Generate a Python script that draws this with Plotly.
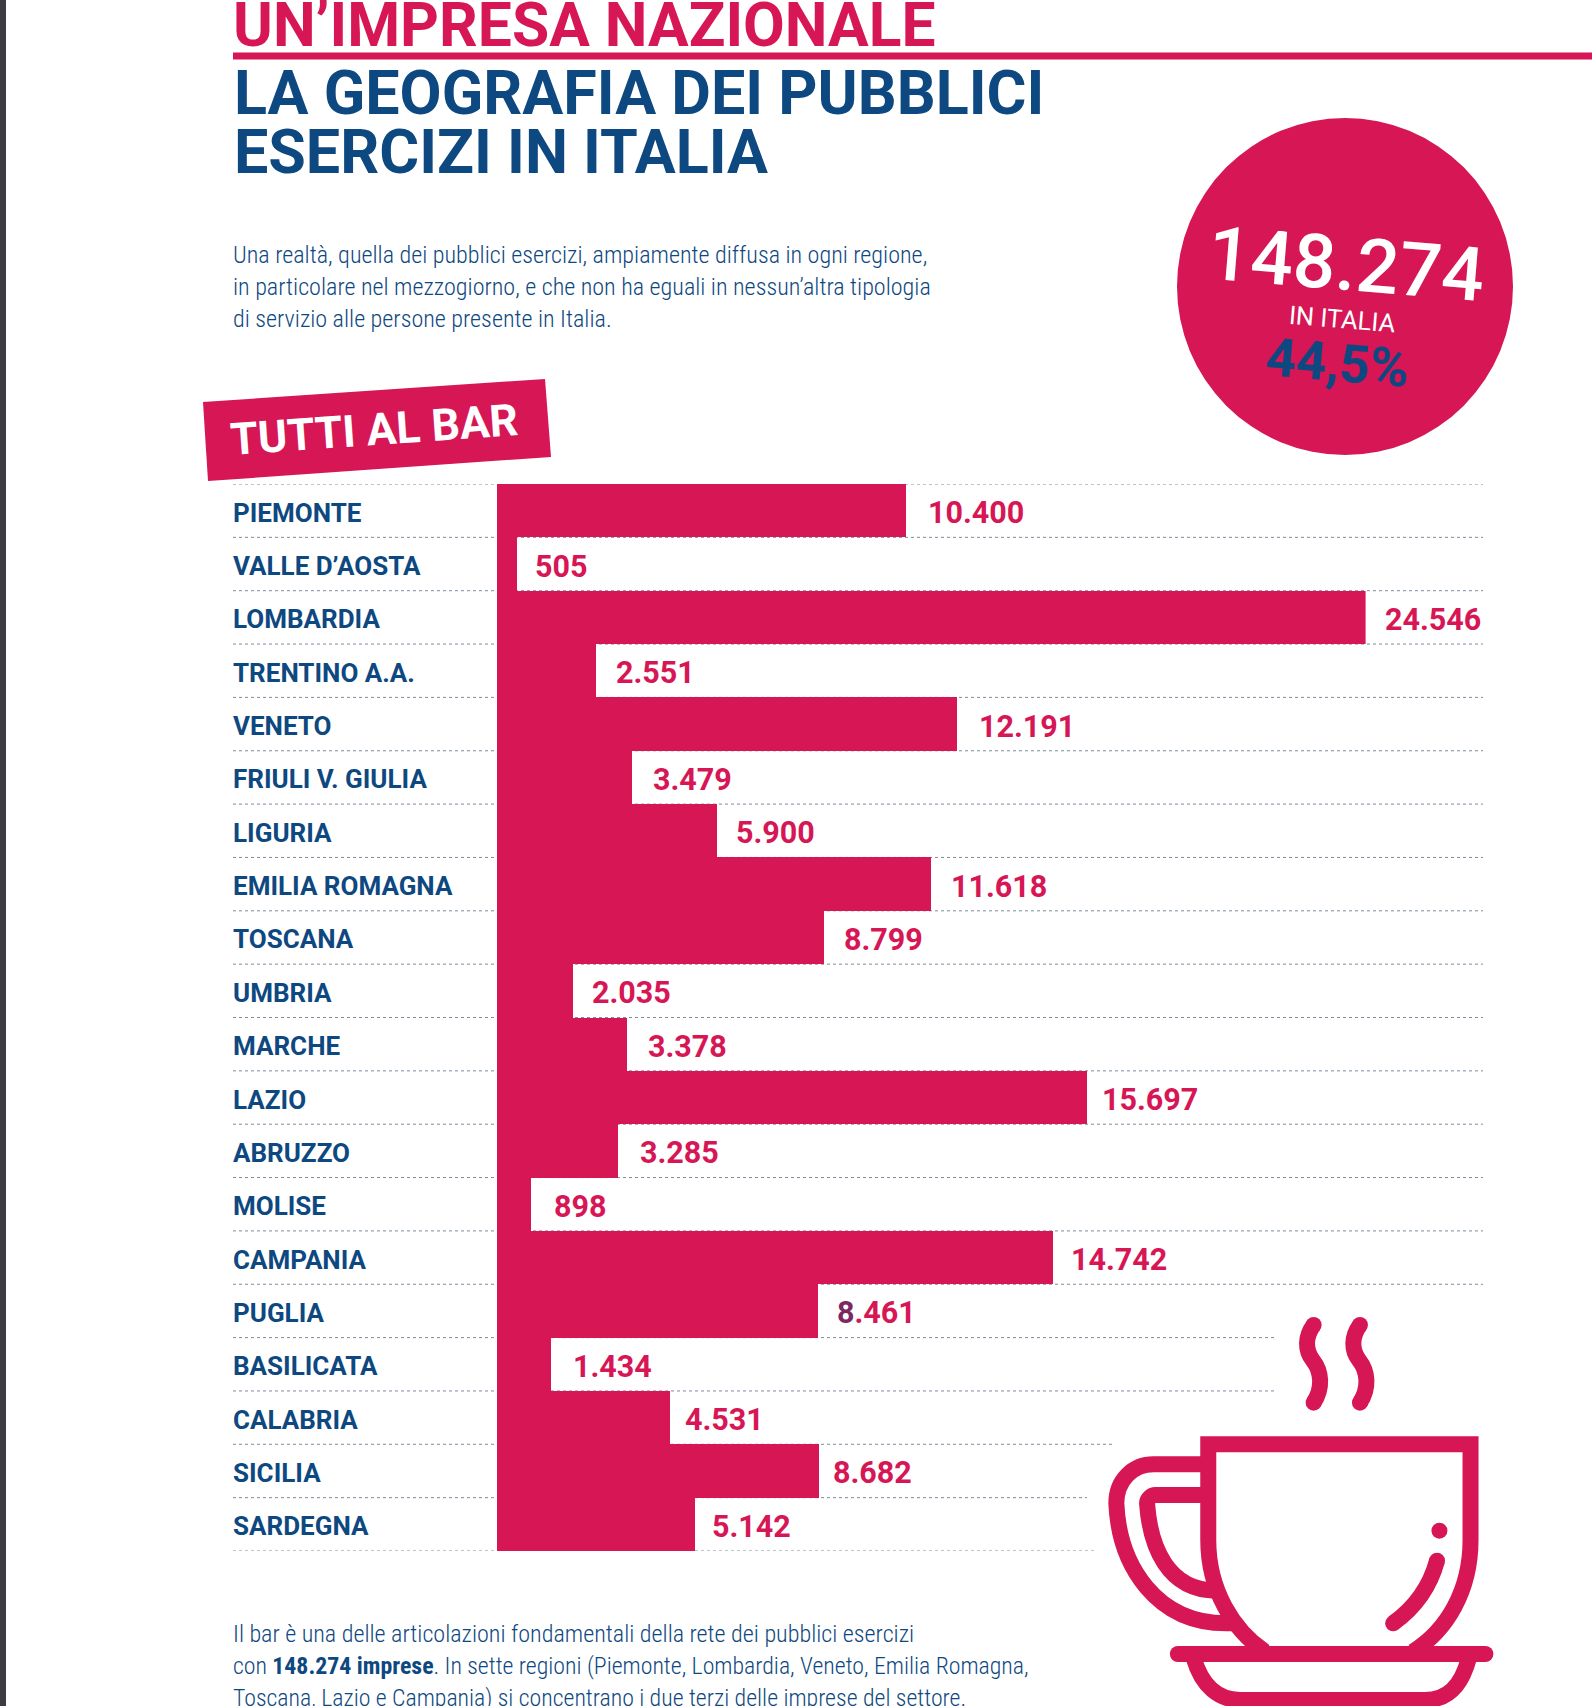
import plotly.graph_objects as go

# --- data -----------------------------------------------------------------
regions = ["PIEMONTE", "VALLE D’AOSTA", "LOMBARDIA", "TRENTINO A.A.", "VENETO",
           "FRIULI V. GIULIA", "LIGURIA", "EMILIA ROMAGNA", "TOSCANA", "UMBRIA",
           "MARCHE", "LAZIO", "ABRUZZO", "MOLISE", "CAMPANIA", "PUGLIA",
           "BASILICATA", "CALABRIA", "SICILIA", "SARDEGNA"]
# Figures printed next to each bar
printed_labels = ["10.400", "505", "24.546", "2.551", "12.191", "3.479", "5.900",
                  "11.618", "8.799", "2.035", "3.378", "15.697", "3.285", "898",
                  "14.742", "8.461", "1.434", "4.531", "8.682", "5.142"]
# Bar lengths as drawn in the source graphic. They are not strictly proportional
# to the printed figures, so they were read separately (Lombardia = 24546 as reference).
drawn_lengths = [11566, 554, 24546, 2799, 13011, 3814, 6213, 12273, 9228, 2153,
                 3660, 16672, 3414, 954, 15718, 9074, 1538, 4891, 9105, 5598]
rule_ends_px = [1483] * 16 + [1274, 1274, 1115, 1087, 1094]
label_gaps_px = [21, 17, 18, 19, 21, 20, 18, 19, 19, 18, 20, 14, 21, 22, 17, 18, 21, 14, 13, 16]

# --- style ----------------------------------------------------------------
W, H = 1592, 1706
PINK = "#D61655"
BLUE = "#0E4880"
HEAD = "Roboto"


def X(px):
    return px / W


def Y(py):
    return 1 - py / H


def note(text, x, y, size, color, family=HEAD, weight=400, anchor="left", angle=0):
    return dict(text=text, x=X(x), y=Y(y), xref="paper", yref="paper", showarrow=False,
                xanchor=anchor, yanchor="middle", textangle=angle, borderpad=0,
                font=dict(family=family, size=size, color=color, weight=weight))


def narrow(text):
    return f'<span style="font-stretch:75%">{text}</span>'


def poly(points, close=True):
    d = "M" + " L".join(f"{X(a):.5f},{Y(b):.5f}" for a, b in points)
    return d + (" Z" if close else "")


def cup_pt(zx, zy):
    # cup outline was measured on a crop: convert crop position to page pixels
    return f"{X(1050 + zx / 2.894):.5f},{Y(1280 + zy / 3):.5f}"


def stroke(cmds, width=16):
    parts = []
    for c, pts in cmds:
        parts.append(c + " ".join(cup_pt(*p) for p in pts))
    return dict(type="path", xref="paper", yref="paper", path=" ".join(parts),
                line=dict(color=PINK, width=width), fillcolor="rgba(0,0,0,0)", layer="above")


def dot(zx, zy, r=8):
    cx, cy = 1050 + zx / 2.894, 1280 + zy / 3
    return dict(type="circle", xref="paper", yref="paper", x0=X(cx - r), x1=X(cx + r),
                y0=Y(cy + r), y1=Y(cy - r), fillcolor=PINK, line=dict(width=0), layer="above")


fig = go.Figure(go.Bar(
    y=regions, x=drawn_lengths, orientation="h", width=1.0,
    marker=dict(color=PINK, line=dict(width=0)),
    customdata=printed_labels, hovertemplate="%{y}: %{customdata}<extra></extra>",
))

shapes = [
    # window edge, heading rule
    dict(type="rect", xref="paper", yref="paper", x0=0, x1=X(6), y0=0, y1=1,
         fillcolor="#3B3D40", line=dict(width=0)),
    dict(type="rect", xref="paper", yref="paper", x0=X(233), x1=1, y0=Y(59.5), y1=Y(52.5),
         fillcolor=PINK, line=dict(width=0)),
    # total badge and tilted banner
    dict(type="circle", xref="paper", yref="paper", x0=X(1177), x1=X(1513), y0=Y(455), y1=Y(118),
         fillcolor=PINK, line=dict(width=0)),
    dict(type="path", xref="paper", yref="paper",
         path=poly([(203, 402), (545, 379), (551, 457), (208, 481)]),
         fillcolor=PINK, line=dict(width=0)),
]
# dotted row rules
for i, end in enumerate(rule_ends_px):
    shapes.append(dict(type="line", xref="paper", yref="y", x0=X(233), x1=X(end),
                       y0=i - 0.5, y1=i - 0.5, layer="below",
                       line=dict(color="#7B8CA0", width=1, dash="dot")))

# coffee cup icon
shapes += [
    stroke([("M", [(622, 1115)]), ("C", [(530, 1050), (458, 930), (458, 780)]), ("L", [(458, 493)]),
            ("L", [(1217, 493)]), ("L", [(1217, 780)]), ("C", [(1217, 930), (1150, 1050), (1050, 1115)])]),
    stroke([("M", [(370, 1122)]), ("L", [(1260, 1122)])]),
    stroke([("M", [(416, 1135)]), ("C", [(440, 1220), (490, 1260), (550, 1260)]), ("L", [(1085, 1260)]),
            ("C", [(1150, 1260), (1190, 1220), (1212, 1135)])]),
    stroke([("M", [(437, 553)]), ("L", [(300, 553)]), ("C", [(240, 553), (192, 600), (192, 670)]),
            ("C", [(200, 860), (310, 1030), (510, 1030)]), ("L", [(545, 1030)])]),
    stroke([("M", [(437, 645)]), ("L", [(305, 645)]), ("C", [(295, 645), (280, 655), (281, 672)]),
            ("C", [(290, 800), (340, 930), (480, 932)])]),
    stroke([("M", [(1120, 842)]), ("C", [(1100, 920), (1060, 980), (993, 1030)])]),
    stroke([("M", [(763, 135)]), ("C", [(738, 170), (738, 210), (760, 240)]), ("C", [(787, 275), (790, 325), (763, 368)])]),
    stroke([("M", [(897, 135)]), ("C", [(872, 170), (872, 210), (894, 240)]), ("C", [(921, 275), (924, 325), (897, 368)])]),
    dot(1127, 752), dot(1120, 842), dot(993, 1030), dot(763, 135), dot(763, 368), dot(897, 135), dot(897, 368),
    dot(370, 1122), dot(1260, 1122),
]

annotations = [
    note("UN’IMPRESA NAZIONALE", 232, 25, 60.5, PINK, weight=700),
    note("LA GEOGRAFIA DEI PUBBLICI", 233, 93, 61, BLUE, weight=700),
    note("ESERCIZI IN ITALIA", 233, 152, 61, BLUE, weight=700),
    note(narrow("Una realtà, quella dei pubblici esercizi, ampiamente diffusa in ogni regione,"), 232, 255, 24.1, BLUE, weight=350),
    note(narrow("in particolare nel mezzogiorno, e che non ha eguali in nessun’altra tipologia"), 232, 287, 24.1, BLUE, weight=350),
    note(narrow("di servizio alle persone presente in Italia."), 232, 319, 24.1, BLUE, weight=350),
    note("TUTTI AL BAR", 374, 430, 44.5, "#FFFFFF", weight=700, anchor="center", angle=-4),
    note("148.274", 1346, 264, 75, "#FFFFFF", weight=500, anchor="center", angle=4.7),
    note("IN ITALIA", 1342, 319, 25.5, "#FFFFFF", anchor="center", angle=4.7),
    note("44,5%", 1337, 363, 53, BLUE, weight=700, anchor="center", angle=4.7),
    note(narrow("Il bar è una delle articolazioni fondamentali della rete dei pubblici esercizi"), 232, 1634, 24.1, BLUE, weight=350),
    note(narrow("con <b>148.274 imprese</b>. In sette regioni (Piemonte, Lombardia, Veneto, Emilia Romagna,"), 232, 1666, 23.8, BLUE, weight=350),
    note(narrow("Toscana, Lazio e Campania) si concentrano i due terzi delle imprese del settore."), 232, 1698, 23.8, BLUE, weight=350),
]
for name, value, label, gap in zip(regions, drawn_lengths, printed_labels, label_gaps_px):
    annotations.append(dict(text=name, x=X(232), xref="paper", y=name, yref="y", showarrow=False,
                            xanchor="left", yanchor="middle", yshift=-2, borderpad=0,
                            font=dict(family=HEAD, size=26, color=BLUE, weight=700)))
    shown = label
    if name == "PUGLIA":
        shown = f'<span style="color:#7A2A62">{label[0]}</span>{label[1:]}'
    annotations.append(dict(text=shown, x=value, xref="x", y=name, yref="y", showarrow=False,
                            xanchor="left", yanchor="middle", xshift=gap, yshift=-2, borderpad=0,
                            font=dict(family=HEAD, size=30.5, color=PINK, weight=700)))

fig.update_layout(
    width=W, height=H, margin=dict(l=0, r=0, t=0, b=0), autosize=False,
    paper_bgcolor="#FFFFFF", plot_bgcolor="rgba(0,0,0,0)", showlegend=False,
    bargap=0, shapes=shapes, annotations=annotations,
    xaxis=dict(domain=[X(497), X(1365.6)], range=[0, 24546], visible=False, fixedrange=True),
    yaxis=dict(domain=[Y(1551), Y(484)], autorange=False, range=[19.5, -0.5], visible=False,
               categoryorder="array", categoryarray=regions, fixedrange=True),
)
fig.write_html("out.html", config=dict(displayModeBar=False),
               post_script="document.body.style.margin='0';")
